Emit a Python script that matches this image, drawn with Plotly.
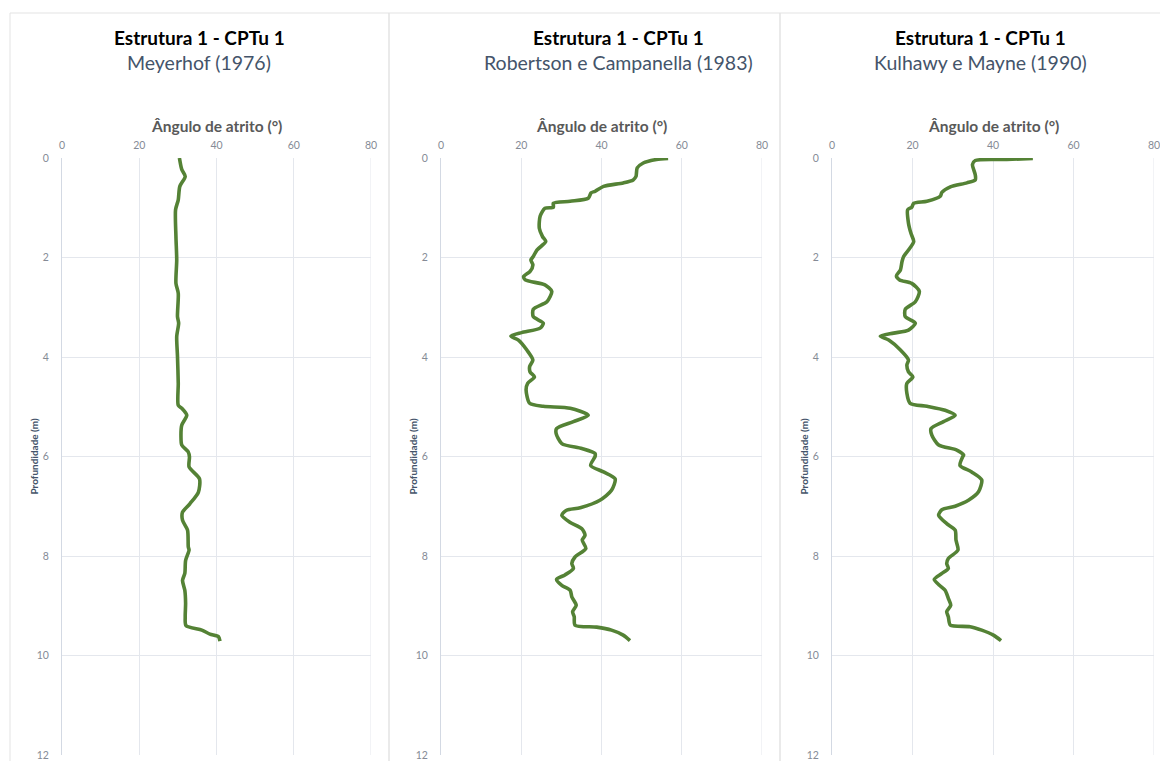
import plotly.graph_objects as go

# ---------------- data ----------------
titles = ["Estrutura 1 - CPTu 1", "Estrutura 1 - CPTu 1", "Estrutura 1 - CPTu 1"]
subtitles = ["Meyerhof (1976)", "Robertson e Campanella (1983)", "Kulhawy e Mayne (1990)"]
x_title = "Ângulo de atrito (°)"
y_title = "Profundidade (m)"
x_ticks = [0, 20, 40, 60, 80]
y_ticks = [0, 2, 4, 6, 8, 10, 12]

meyerhof_depth = [0.0, 0.23, 0.37, 0.57, 0.84, 1.04, 1.58, 2.05, 2.52, 2.72, 3.19, 3.32, 3.59, 3.99,
                  4.53, 4.97, 5.03, 5.17, 5.37, 5.60, 5.77, 5.91, 6.01, 6.21, 6.45, 6.72, 6.95, 7.12,
                  7.28, 7.48, 7.82, 7.88, 8.09, 8.35, 8.49, 8.69, 8.95, 9.22, 9.40, 9.49, 9.57, 9.62, 9.71]
meyerhof_phi = [30.4, 31.0, 31.9, 30.5, 30.1, 29.4, 29.5, 29.7, 29.5, 30.1, 29.9, 30.2, 29.7, 29.9,
                30.1, 30.1, 31.0, 32.3, 31.0, 30.8, 31.0, 32.7, 33.0, 32.9, 35.6, 35.3, 33.1, 31.2,
                31.2, 32.5, 32.7, 32.9, 32.0, 31.8, 31.2, 31.8, 32.0, 31.9, 32.1, 36.2, 38.3, 40.5, 40.9]

robertson_depth = [0.01, 0.03, 0.10, 0.20, 0.37, 0.44, 0.50, 0.57, 0.67, 0.70, 0.81, 0.87, 0.91, 0.99,
                   1.01, 1.17, 1.41, 1.58, 1.68, 1.85, 1.98, 2.05, 2.15, 2.28, 2.38, 2.45, 2.55, 2.68,
                   2.89, 3.04, 3.19, 3.32, 3.42, 3.51, 3.58, 3.66, 3.86, 4.06, 4.19, 4.30, 4.40, 4.53,
                   4.66, 4.93, 4.99, 5.03, 5.17, 5.30, 5.44, 5.54, 5.74, 5.84, 5.94, 6.0, 6.18, 6.31,
                   6.45, 6.68, 6.88, 7.03, 7.08, 7.18, 7.32, 7.45, 7.58, 7.68, 7.85, 8.02, 8.15, 8.25,
                   8.38, 8.47, 8.59, 8.69, 8.82, 8.99, 9.12, 9.22, 9.39, 9.43, 9.49, 9.59, 9.70]
robertson_phi = [56.6, 53.7, 50.4, 48.9, 48.6, 47.9, 45.4, 40.5, 38.4, 37.4, 36.7, 32.2, 28.0, 28.0,
                 25.9, 24.7, 24.5, 25.3, 26.1, 23.9, 23.0, 22.4, 22.9, 22.2, 20.6, 21.0, 25.9, 27.6,
                 26.4, 23.0, 23.0, 25.5, 24.7, 20.1, 17.4, 19.3, 21.4, 22.9, 22.1, 22.2, 23.3, 21.6,
                 21.2, 22.1, 25.5, 32.2, 36.7, 33.0, 28.8, 28.7, 30.1, 35.1, 38.4, 38.4, 37.3, 40.5,
                 43.4, 42.5, 39.6, 34.7, 31.3, 30.1, 32.1, 35.1, 35.9, 35.2, 36.1, 33.4, 32.6, 33.0,
                 30.9, 28.8, 30.1, 32.2, 32.6, 33.7, 32.8, 33.2, 33.4, 38.8, 42.5, 45.4, 47.1]

kulhawy_depth = [0.01, 0.03, 0.05, 0.13, 0.34, 0.44, 0.50, 0.58, 0.69, 0.77, 0.87, 0.91, 0.99, 1.04,
                 1.31, 1.51, 1.68, 1.85, 1.98, 2.08, 2.25, 2.37, 2.45, 2.52, 2.68, 2.89, 3.04, 3.19,
                 3.32, 3.46, 3.52, 3.58, 3.66, 3.86, 4.06, 4.16, 4.30, 4.40, 4.53, 4.73, 4.93, 4.99,
                 5.07, 5.17, 5.30, 5.44, 5.57, 5.77, 5.87, 5.97, 6.0, 6.18, 6.31, 6.47, 6.71, 6.88,
                 7.00, 7.07, 7.18, 7.35, 7.48, 7.68, 7.88, 8.05, 8.15, 8.25, 8.35, 8.47, 8.59, 8.69,
                 8.85, 8.99, 9.12, 9.22, 9.39, 9.42, 9.49, 9.59, 9.70]
kulhawy_phi = [49.9, 43.4, 35.6, 34.9, 35.6, 35.6, 33.5, 29.4, 27.3, 26.9, 23.6, 20.3, 19.8, 18.8,
               19.0, 19.6, 20.3, 19.0, 17.8, 17.4, 17.0, 16.0, 16.8, 19.8, 21.7, 20.7, 18.2, 18.2,
               20.7, 19.0, 15.3, 12.0, 14.1, 17.0, 19.0, 18.6, 19.0, 20.1, 18.6, 18.6, 19.4, 23.6,
               28.1, 30.6, 27.7, 24.6, 24.8, 26.5, 31.0, 32.7, 32.5, 31.8, 34.7, 37.2, 36.4, 33.9,
               30.6, 27.3, 26.5, 28.5, 30.6, 30.8, 31.3, 28.9, 28.5, 28.9, 27.3, 25.4, 26.7, 28.1,
               28.9, 29.5, 28.5, 28.9, 29.4, 34.3, 37.2, 40.1, 42.0]

series = [(meyerhof_phi, meyerhof_depth), (robertson_phi, robertson_depth), (kulhawy_phi, kulhawy_depth)]

# ---------------- layout geometry (pixels) ----------------
W, H = 1160, 761
plot_px = [(62, 371), (441, 762), (832, 1154)]
plot_top, plot_bot = 158, 755
title_cx = [199, 618, 980]
panel_px = [(10, 389), (389, 780), (780, 1175)]

def px(x):
    return x / W

def py(y):
    return 1 - y / H

FONT = "Lato"
LINE_COLOR = "#548235"
GRID = "#e4e7ed"

fig = go.Figure()

for i, (xv, yv) in enumerate(series):
    n = "" if i == 0 else str(i + 1)
    fig.add_trace(go.Scatter(
        x=xv, y=yv, mode="lines",
        line=dict(color=LINE_COLOR, width=3.6, shape="spline", smoothing=0.7),
        xaxis="x" + n, yaxis="y" + n, showlegend=False, hoverinfo="x+y"))

    x0, x1 = plot_px[i]
    fig.layout["xaxis" + n] = dict(
        domain=[px(x0), px(x1)], anchor="y" + n, side="top", range=[0, 80],
        tickvals=x_ticks, showgrid=True, gridcolor=GRID, gridwidth=1,
        zeroline=False, showline=False, ticks="", ticklabelstandoff=6,
        ticklabeloverflow="allow",
        tickfont=dict(family=FONT, size=10.5, color="#858b96"), fixedrange=True)
    fig.layout["yaxis" + n] = dict(
        domain=[py(plot_bot), py(plot_top)], anchor="x" + n, range=[12, 0],
        tickvals=y_ticks, showgrid=True, gridcolor=GRID, gridwidth=1,
        zeroline=False, showline=True, linecolor="#d3d9e3", linewidth=1,
        ticks="", ticklabelstandoff=10,
        tickfont=dict(family=FONT, size=10.5, color="#858b96"), fixedrange=True)

    # right-edge grid line (x = 80) of each plot area
    fig.add_shape(type="line", xref="x" + n, yref="y" + n,
                  x0=x_ticks[-1], x1=x_ticks[-1], y0=y_ticks[0], y1=y_ticks[-1],
                  line=dict(color=GRID, width=1), layer="below")

    # panel frame
    p0, p1 = panel_px[i]
    fig.add_shape(type="rect", xref="paper", yref="paper",
                  x0=px(p0), x1=px(p1), y0=py(775), y1=py(13),
                  line=dict(color="#e3e3e3", width=1), fillcolor="rgba(0,0,0,0)", layer="below")

    # titles
    fig.add_annotation(x=px(title_cx[i]), y=py(37), xref="paper", yref="paper",
                       text="<b>" + titles[i] + "</b>", showarrow=False,
                       font=dict(family=FONT, size=19, color="#000000"),
                       xanchor="center", yanchor="middle")
    fig.add_annotation(x=px(title_cx[i]), y=py(62), xref="paper", yref="paper",
                       text=subtitles[i], showarrow=False,
                       font=dict(family=FONT, size=19.5, color="#44546A"),
                       xanchor="center", yanchor="middle")
    # axis title (x)
    fig.add_annotation(x=px((x0 + x1) / 2), y=py(126), xref="paper", yref="paper",
                       text="<b>" + x_title + "</b>", showarrow=False,
                       font=dict(family=FONT, size=15.5, color="#595959"),
                       xanchor="center", yanchor="middle")
    # axis title (y)
    fig.add_annotation(x=px(x0 - 29), y=py((plot_top + plot_bot) / 2), xref="paper", yref="paper",
                       text="<b>" + y_title + "</b>", showarrow=False, textangle=-90,
                       font=dict(family=FONT, size=10, color="#44546A"),
                       xanchor="center", yanchor="middle")

fig.update_layout(
    autosize=True,
    margin=dict(l=0, r=0, t=0, b=0, autoexpand=False),
    paper_bgcolor="white", plot_bgcolor="white",
    showlegend=False,
)

fig.write_html(
    "out.html",
    default_width="100vw",
    default_height="100vh",
    config={"displayModeBar": False, "responsive": True},
    post_script=(
        "document.documentElement.style.margin='0';"
        "document.documentElement.style.overflow='hidden';"
        "document.body.style.margin='0';"
        "document.body.style.overflow='hidden';"
        "Plotly.Plots.resize(document.getElementById('{plot_id}'));"
    ),
)
